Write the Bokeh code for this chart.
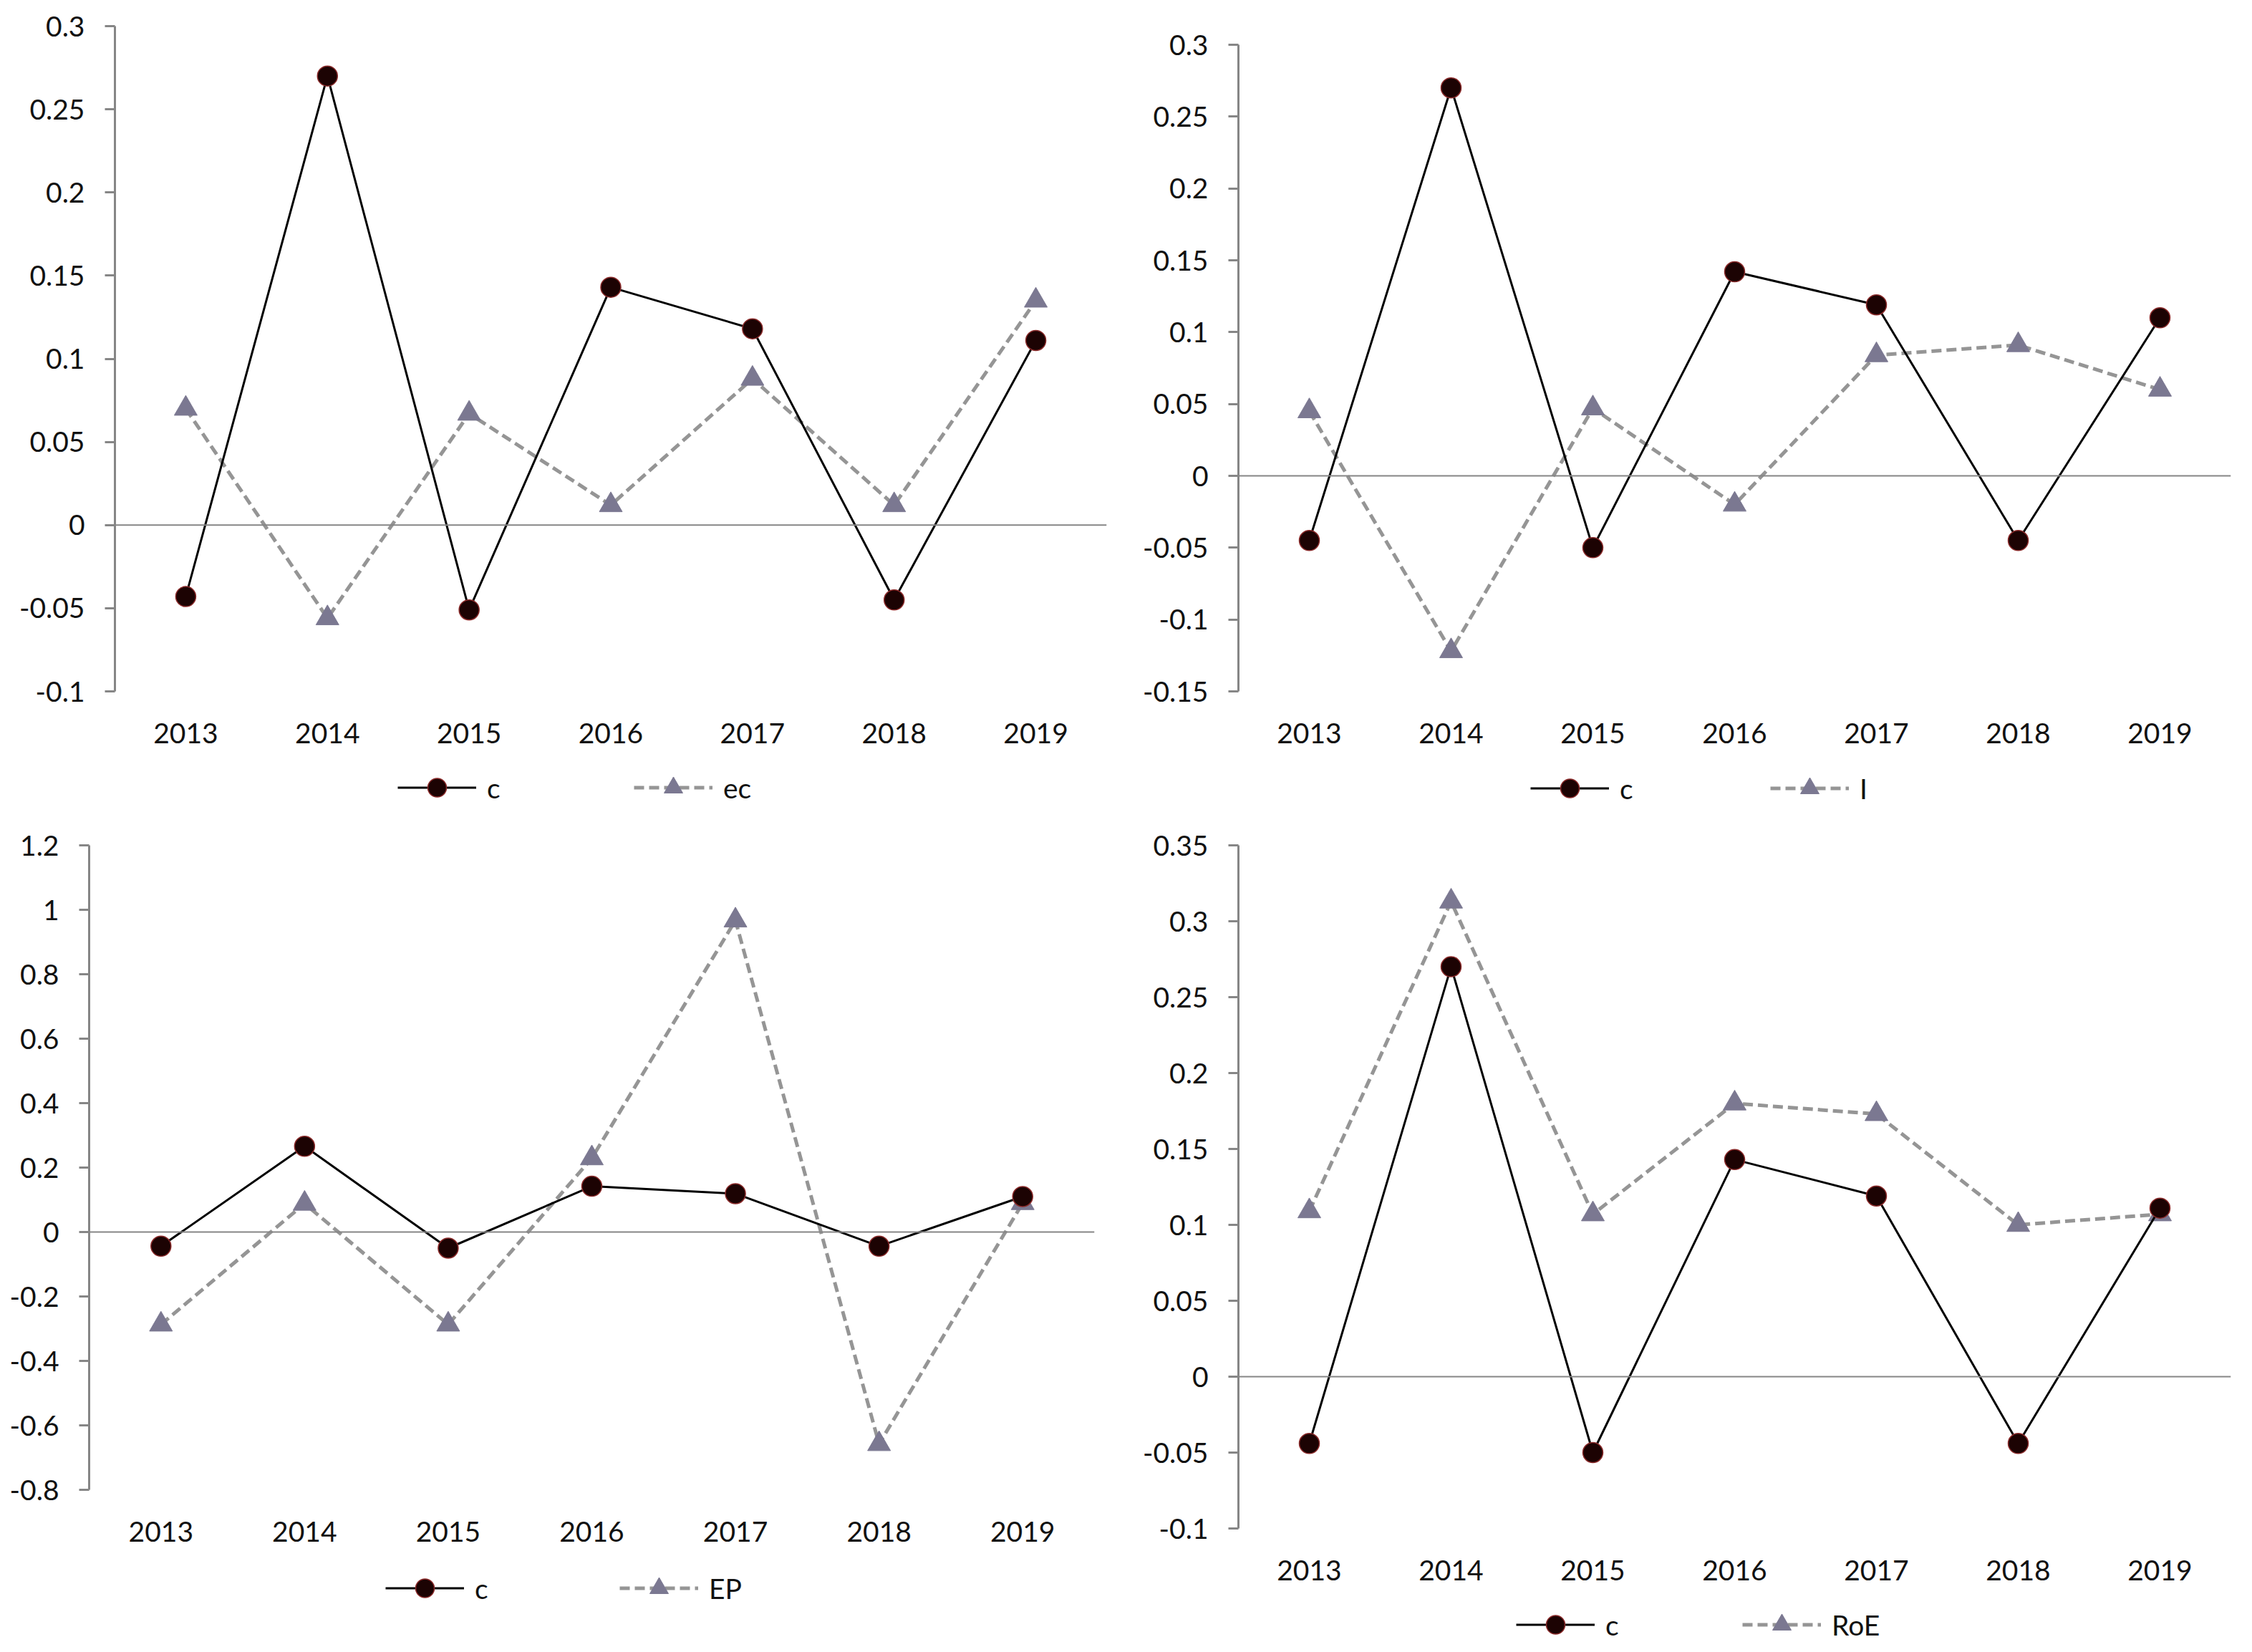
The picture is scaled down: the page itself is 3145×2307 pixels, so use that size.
from bokeh.plotting import figure
from bokeh.models import Range1d, FactorRange, Span, Legend, LegendItem, FixedTicker, CustomJSTickFormatter, Spacer
from bokeh.layouts import column, row
from bokeh.embed import file_html
from bokeh.resources import INLINE

years = ["2013", "2014", "2015", "2016", "2017", "2018", "2019"]

c_p1 = [-0.043, 0.270, -0.051, 0.143, 0.118, -0.045, 0.111]
ec = [0.070, -0.056, 0.067, 0.012, 0.088, 0.012, 0.135]

c_p2 = [-0.045, 0.270, -0.050, 0.142, 0.119, -0.045, 0.110]
I_vals = [0.045, -0.122, 0.047, -0.020, 0.084, 0.091, 0.060]

c_p3 = [-0.044, 0.266, -0.050, 0.142, 0.119, -0.044, 0.110]
EP = [-0.287, 0.088, -0.287, 0.229, 0.967, -0.658, 0.090]

c_p4 = [-0.044, 0.270, -0.050, 0.143, 0.119, -0.044, 0.111]
RoE = [0.109, 0.313, 0.107, 0.180, 0.173, 0.100, 0.107]

ticks_p1 = [-0.1, -0.05, 0, 0.05, 0.1, 0.15, 0.2, 0.25, 0.3]
ticks_p2 = [-0.15, -0.1, -0.05, 0, 0.05, 0.1, 0.15, 0.2, 0.25, 0.3]
ticks_p3 = [-0.8, -0.6, -0.4, -0.2, 0, 0.2, 0.4, 0.6, 0.8, 1, 1.2]
ticks_p4 = [-0.1, -0.05, 0, 0.05, 0.1, 0.15, 0.2, 0.25, 0.3, 0.35]

FONT = "Lato"
FSIZE = "39px"
AXIS_COLOR = "#868686"
TEXT_COLOR = "#111111"

C_STYLE = dict(line_color="#000000", line_width=3)
C_MARK = dict(marker="circle", size=28, fill_color="#1c0303", line_color="#8a2a2a", line_width=1.5)
O_STYLE = dict(line_color="#959595", line_width=5, line_dash="14 7")
O_MARK = dict(marker="triangle", size=32, fill_color="#7b7891", line_color="#7b7891", line_width=1)


def make_plot(c_vals, other_vals, ticks, frame_w, frame_h, bl, br, bt, bb):
    p = figure(x_range=FactorRange(*years),
               y_range=Range1d(ticks[0], ticks[-1]),
               frame_width=frame_w, frame_height=frame_h,
               min_border_left=bl, min_border_right=br,
               min_border_top=bt, min_border_bottom=bb,
               title=None,
               output_backend="svg", toolbar_location=None,
               background_fill_color="white", border_fill_color="white")
    p.outline_line_color = None
    p.grid.visible = False

    ya = p.yaxis[0]
    ya.ticker = FixedTicker(ticks=ticks)
    ya.formatter = CustomJSTickFormatter(code="return String(parseFloat(tick.toFixed(6)));")
    ya.axis_line_color = AXIS_COLOR
    ya.axis_line_width = 3
    ya.major_tick_line_color = AXIS_COLOR
    ya.major_tick_line_width = 3
    ya.major_tick_out = 14
    ya.major_tick_in = 0
    ya.minor_tick_line_color = None
    ya.major_label_standoff = 28
    ya.major_label_text_font = FONT
    ya.major_label_text_font_size = FSIZE
    ya.major_label_text_color = TEXT_COLOR

    xa = p.xaxis[0]
    xa.axis_line_color = None
    xa.major_tick_line_color = None
    xa.minor_tick_line_color = None
    xa.major_tick_out = 0
    xa.major_tick_in = 0
    xa.major_label_standoff = 44
    xa.major_label_text_font = FONT
    xa.major_label_text_font_size = FSIZE
    xa.major_label_text_color = TEXT_COLOR

    p.add_layout(Span(location=0, dimension="width", line_color=AXIS_COLOR, line_width=2))

    p.line(years, other_vals, **O_STYLE)
    p.scatter(years, other_vals, **O_MARK)
    p.line(years, c_vals, **C_STYLE)
    p.scatter(years, c_vals, **C_MARK)
    return p


def make_legend(c_vals, other_vals, other_name, fig_w, fig_h, margin, spacing):
    # legend-only figure: the series are drawn with a y range far away from
    # their values, so only the legend swatches are visible
    lg = figure(frame_width=fig_w, frame_height=fig_h, min_border=0,
                x_axis_location=None, y_axis_location=None, title=None,
                x_range=FactorRange(*years), y_range=Range1d(100, 101),
                output_backend="svg", toolbar_location=None,
                background_fill_color="white", border_fill_color="white")
    lg.outline_line_color = None
    lg.grid.visible = False
    l1 = lg.line(years, c_vals, **C_STYLE)
    m1 = lg.scatter(years, c_vals, **C_MARK)
    l2 = lg.line(years, other_vals, **O_STYLE)
    m2 = lg.scatter(years, other_vals, **O_MARK)
    legend = Legend(items=[LegendItem(label="c", renderers=[l1, m1]),
                           LegendItem(label=other_name, renderers=[l2, m2])],
                    location="top_left", orientation="horizontal")
    legend.padding = 0
    legend.margin = margin
    legend.border_line_color = None
    legend.background_fill_alpha = 0
    legend.glyph_width = 110
    legend.glyph_height = 65
    legend.label_standoff = 15
    legend.label_width = 20
    legend.spacing = spacing
    legend.label_text_font = FONT
    legend.label_text_font_size = FSIZE
    legend.label_text_color = TEXT_COLOR
    lg.add_layout(legend)
    return lg


p1 = make_plot(c_p1, ec, ticks_p1, 1385, 929, 160, 27, 36, 92)
p2 = make_plot(c_p2, I_vals, ticks_p2, 1386, 903, 157, 22, 36, 92)
p3 = make_plot(c_p3, EP, ticks_p3, 1404, 900, 124, 44, 30, 92)
p4 = make_plot(c_p4, RoE, ticks_p4, 1386, 954, 157, 22, 30, 92)

lg1 = make_legend(c_p1, ec, "ec", 1027, 93, 10, 185)
lg2 = make_legend(c_p2, I_vals, "I", 1011, 93, 11, 190)
lg3 = make_legend(c_p3, EP, "EP", 1047, 133, 13, 182)
lg4 = make_legend(c_p4, RoE, "RoE", 1030, 79, 10, 171)

col1 = column(p1, row(Spacer(width=545, height=93), lg1))
col2 = column(Spacer(width=1565, height=26), p2, row(Spacer(width=554, height=93), lg2))
col3 = column(p3, row(Spacer(width=525, height=133), lg3))
col4 = column(p4, row(Spacer(width=535, height=79), lg4))

layout = column(row(col1, col2), row(col3, col4))

open("out.html", "w").write(file_html(layout, INLINE))
